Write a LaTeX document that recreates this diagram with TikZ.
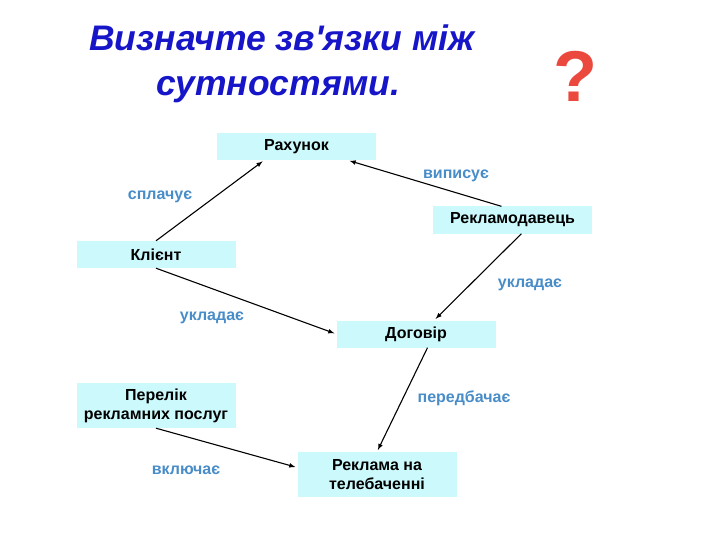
\documentclass[tikz,border=0pt]{standalone}
\usepackage{fontspec}
\setmainfont{Liberation Sans}
\usetikzlibrary{positioning}

\definecolor{boxcyan}{RGB}{204,250,252}
\definecolor{relblue}{RGB}{72,140,200}
\definecolor{titleblue}{RGB}{22,22,200}
\definecolor{qred}{RGB}{235,72,62}

\begin{document}
\begin{tikzpicture}[x=1pt,y=-1pt,
  entity/.style={fill=boxcyan, minimum width=159pt, minimum height=27pt, inner sep=0pt,
    align=center, font=\fontsize{16}{19}\selectfont\bfseries},
  relation/.style={text=relblue, inner sep=1pt, font=\fontsize{16}{18}\selectfont\bfseries},
  link/.style={->, >=latex, line width=1.1pt, shorten >=2pt}]

\useasboundingbox (0,0) rectangle (720,540);

% title
\node[anchor=base, text=titleblue, font=\fontsize{35.5}{40}\selectfont\bfseries\itshape] (title1) at (282,51) {Визначте зв\textquotesingle язки між};
\node[anchor=base, text=titleblue, font=\fontsize{35.5}{40}\selectfont\bfseries\itshape] (title2) at (278,96) {сутностями.};
\node[anchor=base, text=qred, font=\fontsize{72}{80}\selectfont\bfseries] (question) at (575,102) {?};

% entities
\node[entity] (rahunok) at (296.5,146.5) {Рахунок};
\node[entity] (reklamodavets) at (512.5,220) {Рекламодавець};
\node[entity] (klient) at (156,254.5) {Клієнт};
\node[entity] (dogovir) at (416,334) {Договір};
\node[entity, minimum height=45pt] (perelik) at (156,405.5) {Перелік\\рекламних послуг};
\node[entity, minimum height=45pt] (reklama) at (377,474.5) {Реклама на\\телебаченні};

% relations
\node[relation] (vypysuie) at (456,176) {виписує};
\node[relation] (splachuie) at (160,197) {сплачує};
\node[relation] (ukladaieR) at (530,285) {укладає};
\node[relation] (ukladaieL) at (212,318) {укладає};
\node[relation] (peredbachaie) at (464,398) {передбачає};
\node[relation] (vkliuchaie) at (186,470) {включає};

% arrows
\draw[link] (klient.north) -- (rahunok.203);
\draw[link] (reklamodavets.129) -- (rahunok.345);
\draw[link] (klient.south) -- (dogovir.west);
\draw[link] (reklamodavets.303) -- (dogovir.37);
\draw[link] (dogovir.310) -- (reklama.north);
\draw[link] (perelik.south) -- (reklama.175);

\end{tikzpicture}
\end{document}
